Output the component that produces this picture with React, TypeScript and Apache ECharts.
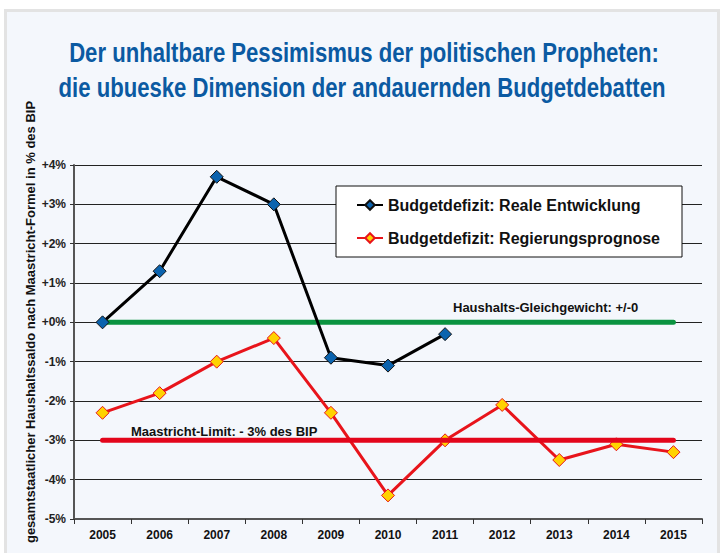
import React, { useEffect, useRef } from "react";
import * as echarts from "echarts";

const years = ["2005", "2006", "2007", "2008", "2009", "2010", "2011", "2012", "2013", "2014", "2015"];
const realValues = [0, 1.3, 3.7, 3.0, -0.9, -1.1, -0.3];
const forecastValues = [-2.3, -1.8, -1.0, -0.4, -2.3, -4.4, -3.0, -2.1, -3.5, -3.1, -3.3];
const balanceLine = [0, 0, 0, 0, 0, 0, 0, 0, 0, 0, 0];
const limitLine = [-3, -3, -3, -3, -3, -3, -3, -3, -3, -3, -3];

const titleLines = [
  "Der unhaltbare Pessimismus der politischen Propheten:",
  "die ubueske Dimension der andauernden Budgetdebatten",
];
const yAxisName = "gesamtstaatlicher Haushaltssaldo nach Maastricht-Formel in % des BIP";

export default function App() {
  const ref = useRef<HTMLDivElement>(null);
  useEffect(() => {
    if (!ref.current) return;
    const chart = echarts.init(ref.current, null, { renderer: "svg" });
    const font = "'Liberation Sans', Arial, sans-serif";
    const titleFont = "bold 28px 'Liberation Sans', Arial, sans-serif";
    chart.setOption({
      animation: false,
      backgroundColor: "#ffffff",
      textStyle: { fontFamily: font },
      grid: { left: 74, right: 22, top: 165, bottom: 34, containLabel: false },
      graphic: [
        {
          type: "rect",
          z: -10,
          shape: { x: 5.5, y: 10.5, width: 713, height: 600 },
          style: { fill: "#f4f7fc", stroke: "#e3e3e3", lineWidth: 3 },
        },
        {
          type: "text",
          x: 364,
          y: 52,
          scaleX: 0.79,
          style: {
            text: titleLines[0],
            fill: "#0b5aa2",
            font: titleFont,
            textAlign: "center",
            textVerticalAlign: "middle",
          },
        },
        {
          type: "text",
          x: 362,
          y: 87,
          scaleX: 0.79,
          style: {
            text: titleLines[1],
            fill: "#0b5aa2",
            font: titleFont,
            textAlign: "center",
            textVerticalAlign: "middle",
          },
        },
        {
          type: "text",
          x: 30,
          y: 322,
          rotation: Math.PI / 2,
          style: {
            text: yAxisName,
            fill: "#111",
            font: "bold 13px 'Liberation Sans', sans-serif",
            textAlign: "center",
            textVerticalAlign: "middle",
          },
        },
        {
          type: "text",
          x: 453,
          y: 307,
          style: {
            text: "Haushalts-Gleichgewicht: +/-0",
            fill: "#111",
            font: "bold 13px 'Liberation Sans', sans-serif",
            textAlign: "left",
            textVerticalAlign: "middle",
          },
        },
        {
          type: "text",
          x: 131,
          y: 431,
          style: {
            text: "Maastricht-Limit: - 3% des BIP",
            fill: "#111",
            font: "bold 13px 'Liberation Sans', sans-serif",
            textAlign: "left",
            textVerticalAlign: "middle",
          },
        },
      ],
      legend: {
        left: 336,
        top: 186,
        orient: "vertical",
        data: ["Budgetdefizit: Reale Entwicklung", "Budgetdefizit: Regierungsprognose"],
        backgroundColor: "#ffffff",
        borderColor: "#111",
        borderWidth: 1,
        padding: [11, 22, 11, 20],
        itemGap: 17,
        itemWidth: 26,
        itemHeight: 12,
        textStyle: { fontSize: 16, fontWeight: "bold", color: "#111", fontFamily: font },
      },
      xAxis: {
        type: "category",
        data: years,
        boundaryGap: true,
        axisLine: { show: true, onZero: false, lineStyle: { color: "#555", width: 2 } },
        axisTick: { show: true, alignWithLabel: false, length: 5, lineStyle: { color: "#333" } },
        axisLabel: { color: "#111", fontSize: 12, fontWeight: "bold", margin: 10 },
        splitLine: { show: false },
      },
      yAxis: {
        type: "value",
        min: -5,
        max: 4,
        interval: 1,
        axisLine: { show: true, lineStyle: { color: "#555", width: 2 } },
        axisTick: { show: true, length: 4, lineStyle: { color: "#333" } },
        axisLabel: {
          color: "#222",
          fontSize: 12,
          fontWeight: "bold",
          margin: 8,
          formatter: (v: number) => (v >= 0 ? "+" + v + "%" : v + "%"),
        },
        splitLine: { show: true, lineStyle: { color: "#222", width: 1 } },
      },
      series: [
        {
          name: "Budgetdefizit: Regierungsprognose",
          type: "line",
          data: forecastValues,
          z: 3,
          lineStyle: { color: "#e8141b", width: 3 },
          symbol: "diamond",
          symbolSize: 13,
          itemStyle: { color: "#ffd200", borderColor: "#e8141b", borderWidth: 1 },
        },
        {
          name: "limit",
          type: "line",
          data: limitLine,
          z: 4,
          symbol: "none",
          lineStyle: { color: "#e3051b", width: 5, cap: "round" },
          silent: true,
        },
        {
          name: "balance",
          type: "line",
          data: balanceLine,
          z: 4,
          symbol: "none",
          lineStyle: { color: "#0a9340", width: 5, cap: "round" },
          silent: true,
        },
        {
          name: "Budgetdefizit: Reale Entwicklung",
          type: "line",
          data: realValues,
          z: 5,
          lineStyle: { color: "#000", width: 3 },
          symbol: "diamond",
          symbolSize: 13,
          itemStyle: { color: "#0b63ae", borderColor: "#111", borderWidth: 1 },
        },
      ],
    });
    return () => chart.dispose();
  }, []);
  return (
    <div
      ref={ref}
      style={{ position: "fixed", left: 0, top: 0, width: 724, height: 553 }}
    />
  );
}
